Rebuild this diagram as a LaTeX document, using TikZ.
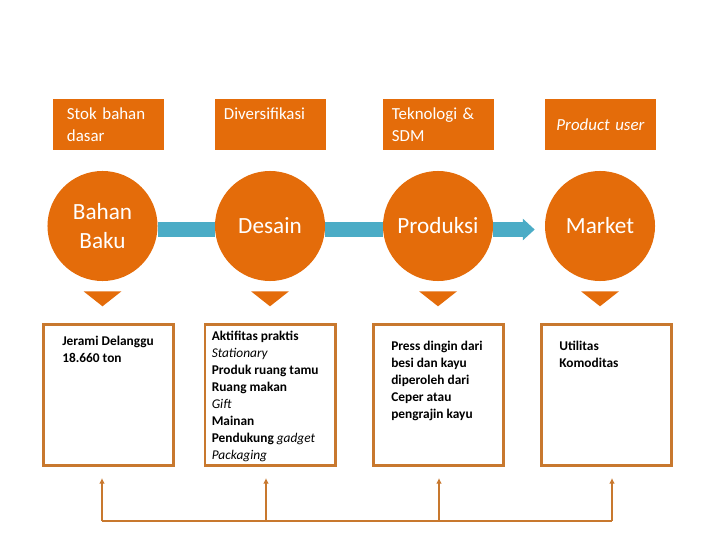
\documentclass[tikz,border=0pt]{standalone}
\usepackage{fontspec}
\setmainfont{Carlito}
\usetikzlibrary{arrows.meta, positioning}
\definecolor{ornge}{HTML}{E46C0A}
\definecolor{rim}{HTML}{C8782E}
\definecolor{flowblue}{HTML}{4BACC6}
\newcommand{\plainit}[1]{\textmd{\textit{#1}}}

\begin{document}
\begin{tikzpicture}[x=0.025cm, y=0.025cm,
  head/.style={fill=ornge, minimum width=2.775cm, minimum height=1.275cm, inner xsep=0.225cm, inner ysep=0,
    text width=2.325cm, align=left, text=white, font=\fontsize{12}{15.6}\selectfont},
  stage/.style={circle, fill=ornge, minimum size=2.75cm, inner sep=0, text=white, align=center,
    font=\fontsize{16.5}{20.6}\selectfont},
  note/.style={draw=rim, line width=2.1pt, fill=white, minimum width=3.25cm, minimum height=3.525cm, inner sep=0},
  notetxt/.style={anchor=north west, inner sep=0, align=left, font=\fontsize{9.5}{12.1}\selectfont\bfseries},
  flow/.style={draw=flowblue, line width=10pt},
  link/.style={draw=rim, line width=1.1pt},
  pin/.style={-{Latex[length=4pt,width=4pt]}}]
\useasboundingbox (0,0) rectangle (720,540);

% header boxes
\node[head, inner xsep=0.35cm, text width=2.075cm] (h1) at (108.5,415.5) {Stok bahan\\dasar};
\node[head] (h2) at (270.5,415.5) {Diversifikasi\\\mbox{}};
\node[head] (h3) at (438.5,415.5) {Teknologi \&\\SDM};
\node[head, align=center] (h4) at (600.5,415.5) {\textit{Product user}};

% stages
\node[stage] (c1) at (102.5,314) {Bahan\\Baku};
\node[stage] (c2) at (270,314) {Desain};
\node[stage] (c3) at (438,314) {Produksi};
\node[stage] (c4) at (600,314) {Market};

\draw[flow] ([yshift=-2.5pt]c1.east) -- ([yshift=-2.5pt]c2.west);
\draw[flow] ([yshift=-2.5pt]c2.east) -- ([yshift=-2.5pt]c3.west);
\draw[flow, -{Triangle[length=8.5pt,width=15pt]}, shorten >=0.25cm] ([yshift=-2.5pt]c3.east) -- ([yshift=-2.5pt]c4.west);

% small pointers
\fill[ornge] ([shift={(-19,-10)}]c1.south) -- ++(38,0) -- ++(-19,-15) -- cycle;
\fill[ornge] ([shift={(-19,-10)}]c2.south) -- ++(38,0) -- ++(-19,-15) -- cycle;
\fill[ornge] ([shift={(-19,-10)}]c3.south) -- ++(38,0) -- ++(-19,-15) -- cycle;
\fill[ornge] ([shift={(-19,-10)}]c4.south) -- ++(38,0) -- ++(-19,-15) -- cycle;

% detail boxes
\node[note] (b1) at (108.5,145) {};
\node[note] (b2) at (270,145) {};
\node[note] (b3) at (438.5,145) {};
\node[note] (b4) at (606.5,145) {};

\node[notetxt] (t1) at ([shift={(20,-13)}]b1.north west) {Jerami Delanggu\\18.660 ton};
\node[notetxt] (t2) at ([shift={(8,-8)}]b2.north west) {Aktifitas praktis\\\plainit{Stationary}\\Produk ruang tamu\\Ruang makan\\\plainit{Gift}\\Mainan\\Pendukung \plainit{gadget}\\\plainit{Packaging}};
\node[notetxt] (t3) at ([shift={(19,-18)}]b3.north west) {Press dingin dari\\besi dan kayu\\diperoleh dari\\Ceper atau\\pengrajin kayu};
\node[notetxt] (t4) at ([shift={(19,-18)}]b4.north west) {Utilitas\\Komoditas};

% feedback line
\coordinate (f1) at (102,19);
\coordinate (f2) at (266,19);
\coordinate (f3) at (439,19);
\coordinate (f4) at (612,19);
\coordinate (a1) at (102,62);
\coordinate (a2) at (266,62);
\coordinate (a3) at (439,62);
\coordinate (a4) at (612,62);
\draw[link] (f1) -- (f4);
\draw[link, pin] (f1) -- (a1);
\draw[link, pin] (f2) -- (a2);
\draw[link, pin] (f3) -- (a3);
\draw[link, pin] (f4) -- (a4);
\end{tikzpicture}
\end{document}
